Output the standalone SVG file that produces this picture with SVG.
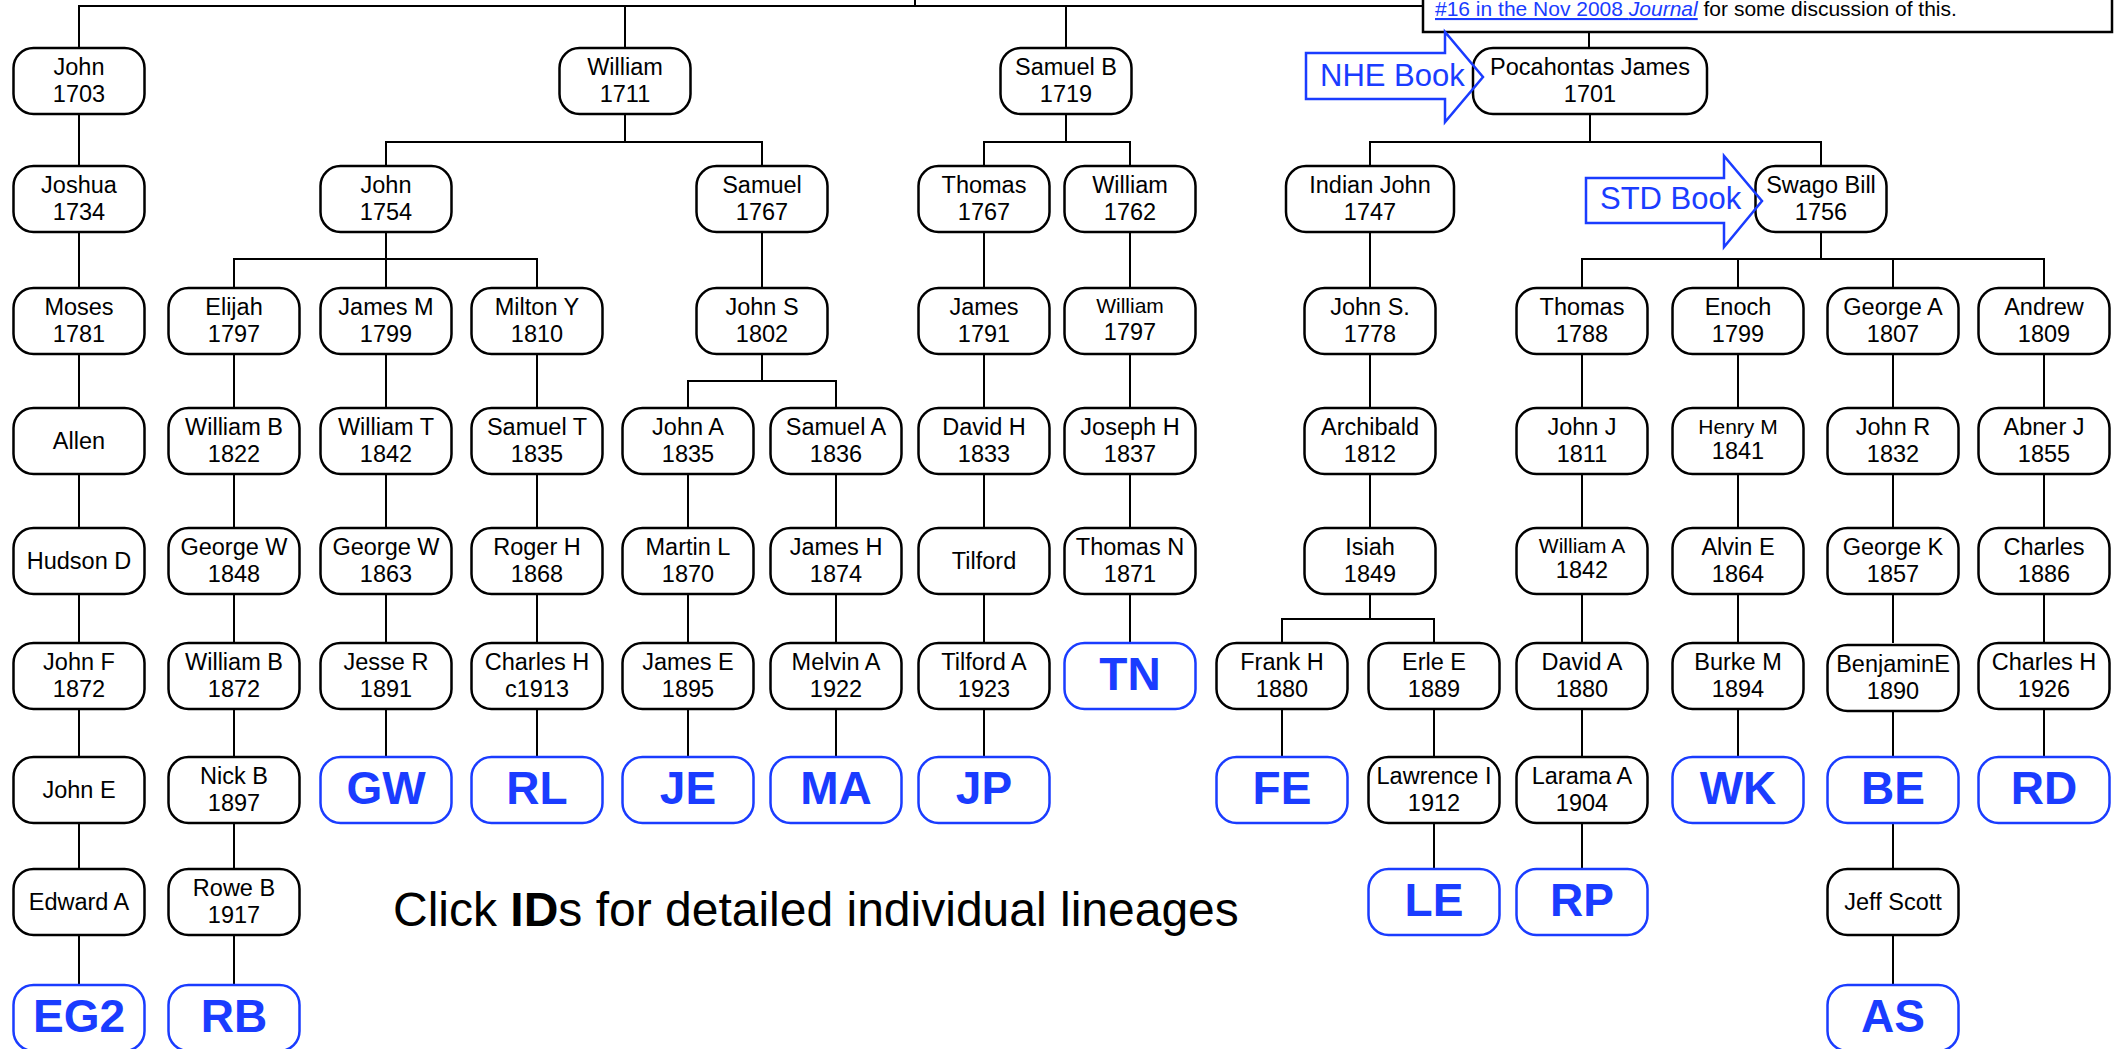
<svg xmlns="http://www.w3.org/2000/svg" width="2123" height="1049" viewBox="0 0 2123 1049">
<style>
text{font-family:"Liberation Sans",Arial,Helvetica,sans-serif}
.n rect{fill:#fff;stroke:#000;stroke-width:2.5}
.n text{font-size:23.5px;text-anchor:middle;fill:#000}
.n text.s{font-size:21px}
.id rect{fill:#fff;stroke:#1a3cff;stroke-width:2.5}
.id text{font-size:46px;font-weight:bold;text-anchor:middle;fill:#1a3cff}
.conn path{stroke:#000;stroke-width:2;fill:none}
.arrow polygon{fill:none;stroke:#1a3cff;stroke-width:2.5}
.arrow text{font-size:31px;fill:#1a3cff}
</style>
<rect x="0" y="0" width="2123" height="1049" fill="#fff"/>
<g id="connectors" class="conn">
<path d="M79 48V6H1589V48M625 6V48M1066 6V48M915 -5V6"/>
<path d="M625 114V142M386 166V142H762V166"/>
<path d="M1066 114V142M984 166V142H1130V166"/>
<path d="M1590 114V142M1370 166V142H1821V166"/>
<path d="M79 114V166M79 232V288M79 354V408M79 474V528M79 594V643M79 709V757M79 823V869M79 935V985"/>
<path d="M386 232V288M234 288V259H537V288"/>
<path d="M762 232V288M984 232V288M1130 232V288M1370 232V288"/>
<path d="M1821 232V259M1582 288V259H2044V288M1738 259V288M1893 259V288"/>
<path d="M234 354V408M386 354V408M537 354V408M984 354V408M1130 354V408M1370 354V408M1582 354V408M1738 354V408M1893 354V408M2044 354V408"/>
<path d="M762 354V381M688 408V381H836V408"/>
<path d="M234 474V528M386 474V528M537 474V528M688 474V528M836 474V528M984 474V528M1130 474V528M1370 474V528M1582 474V528M1738 474V528M1893 474V528M2044 474V528"/>
<path d="M234 594V643M386 594V643M537 594V643M688 594V643M836 594V643M984 594V643M1130 594V643M1582 594V643M1738 594V643M1893 594V643M2044 594V643"/>
<path d="M1370 594V619M1282 643V619H1434V643"/>
<path d="M234 709V757M386 709V757M537 709V757M688 709V757M836 709V757M984 709V757M1282 709V757M1434 709V757M1582 709V757M1738 709V757M1893 709V757M2044 709V757"/>
<path d="M234 823V869M1434 823V869M1582 823V869M1893 823V869"/>
<path d="M234 935V985M1893 935V985"/>
</g>
<g id="note">
<rect x="1423" y="-40" width="689" height="72" fill="#fff" stroke="#000" stroke-width="2.5"/>
<text x="1435" y="16" font-size="21"><tspan fill="#1a3cff" text-decoration="underline">#16 in the Nov 2008 </tspan><tspan fill="#1a3cff" text-decoration="underline" font-style="italic">Journal</tspan><tspan fill="#000"> for some discussion of this.</tspan></text>
</g>
<!-- Row 1 -->
<g id="john1703" class="n"><rect x="13.5" y="48" width="131" height="66" rx="20"/><text x="79" y="75">John</text><text x="79" y="102">1703</text></g>
<g id="william1711" class="n"><rect x="559.5" y="48" width="131" height="66" rx="20"/><text x="625" y="75">William</text><text x="625" y="102">1711</text></g>
<g id="samuelb1719" class="n"><rect x="1000.5" y="48" width="131" height="66" rx="20"/><text x="1066" y="75">Samuel B</text><text x="1066" y="102">1719</text></g>
<g id="pocahontas1701" class="n"><rect x="1473" y="48" width="234" height="66" rx="20"/><text x="1590" y="75">Pocahontas James</text><text x="1590" y="102">1701</text></g>
<!-- Row 2 -->
<g id="joshua1734" class="n"><rect x="13.5" y="166" width="131" height="66" rx="20"/><text x="79" y="193">Joshua</text><text x="79" y="220">1734</text></g>
<g id="john1754" class="n"><rect x="320.5" y="166" width="131" height="66" rx="20"/><text x="386" y="193">John</text><text x="386" y="220">1754</text></g>
<g id="samuel1767" class="n"><rect x="696.5" y="166" width="131" height="66" rx="20"/><text x="762" y="193">Samuel</text><text x="762" y="220">1767</text></g>
<g id="thomas1767" class="n"><rect x="918.5" y="166" width="131" height="66" rx="20"/><text x="984" y="193">Thomas</text><text x="984" y="220">1767</text></g>
<g id="william1762" class="n"><rect x="1064.5" y="166" width="131" height="66" rx="20"/><text x="1130" y="193">William</text><text x="1130" y="220">1762</text></g>
<g id="indianjohn1747" class="n"><rect x="1286" y="166" width="168" height="66" rx="20"/><text x="1370" y="193">Indian John</text><text x="1370" y="220">1747</text></g>
<g id="swagobill1756" class="n"><rect x="1755.5" y="166" width="131" height="66" rx="20"/><text x="1821" y="193">Swago Bill</text><text x="1821" y="220">1756</text></g>
<!-- Row 3 -->
<g id="moses1781" class="n"><rect x="13.5" y="288" width="131" height="66" rx="20"/><text x="79" y="315">Moses</text><text x="79" y="342">1781</text></g>
<g id="elijah1797" class="n"><rect x="168.5" y="288" width="131" height="66" rx="20"/><text x="234" y="315">Elijah</text><text x="234" y="342">1797</text></g>
<g id="jamesm1799" class="n"><rect x="320.5" y="288" width="131" height="66" rx="20"/><text x="386" y="315">James M</text><text x="386" y="342">1799</text></g>
<g id="miltony1810" class="n"><rect x="471.5" y="288" width="131" height="66" rx="20"/><text x="537" y="315">Milton Y</text><text x="537" y="342">1810</text></g>
<g id="johns1802" class="n"><rect x="696.5" y="288" width="131" height="66" rx="20"/><text x="762" y="315">John S</text><text x="762" y="342">1802</text></g>
<g id="james1791" class="n"><rect x="918.5" y="288" width="131" height="66" rx="20"/><text x="984" y="315">James</text><text x="984" y="342">1791</text></g>
<g id="william1797" class="n"><rect x="1064.5" y="288" width="131" height="66" rx="20"/><text class="s" x="1130" y="313">William</text><text x="1130" y="340">1797</text></g>
<g id="johns1778" class="n"><rect x="1304.5" y="288" width="131" height="66" rx="20"/><text x="1370" y="315">John S.</text><text x="1370" y="342">1778</text></g>
<g id="thomas1788" class="n"><rect x="1516.5" y="288" width="131" height="66" rx="20"/><text x="1582" y="315">Thomas</text><text x="1582" y="342">1788</text></g>
<g id="enoch1799" class="n"><rect x="1672.5" y="288" width="131" height="66" rx="20"/><text x="1738" y="315">Enoch</text><text x="1738" y="342">1799</text></g>
<g id="georgea1807" class="n"><rect x="1827.5" y="288" width="131" height="66" rx="20"/><text x="1893" y="315">George A</text><text x="1893" y="342">1807</text></g>
<g id="andrew1809" class="n"><rect x="1978.5" y="288" width="131" height="66" rx="20"/><text x="2044" y="315">Andrew</text><text x="2044" y="342">1809</text></g>
<!-- Row 4 -->
<g id="allen" class="n"><rect x="13.5" y="408" width="131" height="66" rx="20"/><text x="79" y="449">Allen</text></g>
<g id="williamb1822" class="n"><rect x="168.5" y="408" width="131" height="66" rx="20"/><text x="234" y="435">William B</text><text x="234" y="462">1822</text></g>
<g id="williamt1842" class="n"><rect x="320.5" y="408" width="131" height="66" rx="20"/><text x="386" y="435">William T</text><text x="386" y="462">1842</text></g>
<g id="samuelt1835" class="n"><rect x="471.5" y="408" width="131" height="66" rx="20"/><text x="537" y="435">Samuel T</text><text x="537" y="462">1835</text></g>
<g id="johna1835" class="n"><rect x="622.5" y="408" width="131" height="66" rx="20"/><text x="688" y="435">John A</text><text x="688" y="462">1835</text></g>
<g id="samuela1836" class="n"><rect x="770.5" y="408" width="131" height="66" rx="20"/><text x="836" y="435">Samuel A</text><text x="836" y="462">1836</text></g>
<g id="davidh1833" class="n"><rect x="918.5" y="408" width="131" height="66" rx="20"/><text x="984" y="435">David H</text><text x="984" y="462">1833</text></g>
<g id="josephh1837" class="n"><rect x="1064.5" y="408" width="131" height="66" rx="20"/><text x="1130" y="435">Joseph H</text><text x="1130" y="462">1837</text></g>
<g id="archibald1812" class="n"><rect x="1304.5" y="408" width="131" height="66" rx="20"/><text x="1370" y="435">Archibald</text><text x="1370" y="462">1812</text></g>
<g id="johnj1811" class="n"><rect x="1516.5" y="408" width="131" height="66" rx="20"/><text x="1582" y="435">John J</text><text x="1582" y="462">1811</text></g>
<g id="henrym1841" class="n"><rect x="1672.5" y="408" width="131" height="66" rx="20"/><text class="s" x="1738" y="434">Henry M</text><text x="1738" y="459">1841</text></g>
<g id="johnr1832" class="n"><rect x="1827.5" y="408" width="131" height="66" rx="20"/><text x="1893" y="435">John R</text><text x="1893" y="462">1832</text></g>
<g id="abnerj1855" class="n"><rect x="1978.5" y="408" width="131" height="66" rx="20"/><text x="2044" y="435">Abner J</text><text x="2044" y="462">1855</text></g>
<!-- Row 5 -->
<g id="hudsond" class="n"><rect x="13.5" y="528" width="131" height="66" rx="20"/><text x="79" y="569">Hudson D</text></g>
<g id="georgew1848" class="n"><rect x="168.5" y="528" width="131" height="66" rx="20"/><text x="234" y="555">George W</text><text x="234" y="582">1848</text></g>
<g id="georgew1863" class="n"><rect x="320.5" y="528" width="131" height="66" rx="20"/><text x="386" y="555">George W</text><text x="386" y="582">1863</text></g>
<g id="rogerh1868" class="n"><rect x="471.5" y="528" width="131" height="66" rx="20"/><text x="537" y="555">Roger H</text><text x="537" y="582">1868</text></g>
<g id="martinl1870" class="n"><rect x="622.5" y="528" width="131" height="66" rx="20"/><text x="688" y="555">Martin L</text><text x="688" y="582">1870</text></g>
<g id="jamesh1874" class="n"><rect x="770.5" y="528" width="131" height="66" rx="20"/><text x="836" y="555">James H</text><text x="836" y="582">1874</text></g>
<g id="tilford" class="n"><rect x="918.5" y="528" width="131" height="66" rx="20"/><text x="984" y="569">Tilford</text></g>
<g id="thomasn1871" class="n"><rect x="1064.5" y="528" width="131" height="66" rx="20"/><text x="1130" y="555">Thomas N</text><text x="1130" y="582">1871</text></g>
<g id="isiah1849" class="n"><rect x="1304.5" y="528" width="131" height="66" rx="20"/><text x="1370" y="555">Isiah</text><text x="1370" y="582">1849</text></g>
<g id="williama1842" class="n"><rect x="1516.5" y="528" width="131" height="66" rx="20"/><text class="s" x="1582" y="553">William A</text><text x="1582" y="578">1842</text></g>
<g id="alvine1864" class="n"><rect x="1672.5" y="528" width="131" height="66" rx="20"/><text x="1738" y="555">Alvin E</text><text x="1738" y="582">1864</text></g>
<g id="georgek1857" class="n"><rect x="1827.5" y="528" width="131" height="66" rx="20"/><text x="1893" y="555">George K</text><text x="1893" y="582">1857</text></g>
<g id="charles1886" class="n"><rect x="1978.5" y="528" width="131" height="66" rx="20"/><text x="2044" y="555">Charles</text><text x="2044" y="582">1886</text></g>
<!-- Row 6 -->
<g id="johnf1872" class="n"><rect x="13.5" y="643" width="131" height="66" rx="20"/><text x="79" y="670">John F</text><text x="79" y="697">1872</text></g>
<g id="williamb1872" class="n"><rect x="168.5" y="643" width="131" height="66" rx="20"/><text x="234" y="670">William B</text><text x="234" y="697">1872</text></g>
<g id="jesser1891" class="n"><rect x="320.5" y="643" width="131" height="66" rx="20"/><text x="386" y="670">Jesse R</text><text x="386" y="697">1891</text></g>
<g id="charlesh1913" class="n"><rect x="471.5" y="643" width="131" height="66" rx="20"/><text x="537" y="670">Charles H</text><text x="537" y="697">c1913</text></g>
<g id="jamese1895" class="n"><rect x="622.5" y="643" width="131" height="66" rx="20"/><text x="688" y="670">James E</text><text x="688" y="697">1895</text></g>
<g id="melvina1922" class="n"><rect x="770.5" y="643" width="131" height="66" rx="20"/><text x="836" y="670">Melvin A</text><text x="836" y="697">1922</text></g>
<g id="tilforda1923" class="n"><rect x="918.5" y="643" width="131" height="66" rx="20"/><text x="984" y="670">Tilford A</text><text x="984" y="697">1923</text></g>
<g id="id-tn" class="id"><rect x="1064.5" y="643" width="131" height="66" rx="20"/><text x="1130" y="690">TN</text></g>
<g id="frankh1880" class="n"><rect x="1216.5" y="643" width="131" height="66" rx="20"/><text x="1282" y="670">Frank H</text><text x="1282" y="697">1880</text></g>
<g id="erlee1889" class="n"><rect x="1368.5" y="643" width="131" height="66" rx="20"/><text x="1434" y="670">Erle E</text><text x="1434" y="697">1889</text></g>
<g id="davida1880" class="n"><rect x="1516.5" y="643" width="131" height="66" rx="20"/><text x="1582" y="670">David A</text><text x="1582" y="697">1880</text></g>
<g id="burkem1894" class="n"><rect x="1672.5" y="643" width="131" height="66" rx="20"/><text x="1738" y="670">Burke M</text><text x="1738" y="697">1894</text></g>
<g id="benjamine1890" class="n"><rect x="1827.5" y="645" width="131" height="66" rx="20"/><text x="1893" y="672">BenjaminE</text><text x="1893" y="699">1890</text></g>
<g id="charlesh1926" class="n"><rect x="1978.5" y="643" width="131" height="66" rx="20"/><text x="2044" y="670">Charles H</text><text x="2044" y="697">1926</text></g>
<!-- Row 7 -->
<g id="johne" class="n"><rect x="13.5" y="757" width="131" height="66" rx="20"/><text x="79" y="798">John E</text></g>
<g id="nickb1897" class="n"><rect x="168.5" y="757" width="131" height="66" rx="20"/><text x="234" y="784">Nick B</text><text x="234" y="811">1897</text></g>
<g id="id-gw" class="id"><rect x="320.5" y="757" width="131" height="66" rx="20"/><text x="386" y="804">GW</text></g>
<g id="id-rl" class="id"><rect x="471.5" y="757" width="131" height="66" rx="20"/><text x="537" y="804">RL</text></g>
<g id="id-je" class="id"><rect x="622.5" y="757" width="131" height="66" rx="20"/><text x="688" y="804">JE</text></g>
<g id="id-ma" class="id"><rect x="770.5" y="757" width="131" height="66" rx="20"/><text x="836" y="804">MA</text></g>
<g id="id-jp" class="id"><rect x="918.5" y="757" width="131" height="66" rx="20"/><text x="984" y="804">JP</text></g>
<g id="id-fe" class="id"><rect x="1216.5" y="757" width="131" height="66" rx="20"/><text x="1282" y="804">FE</text></g>
<g id="lawrencei1912" class="n"><rect x="1368.5" y="757" width="131" height="66" rx="20"/><text x="1434" y="784">Lawrence I</text><text x="1434" y="811">1912</text></g>
<g id="laramaa1904" class="n"><rect x="1516.5" y="757" width="131" height="66" rx="20"/><text x="1582" y="784">Larama A</text><text x="1582" y="811">1904</text></g>
<g id="id-wk" class="id"><rect x="1672.5" y="757" width="131" height="66" rx="20"/><text x="1738" y="804">WK</text></g>
<g id="id-be" class="id"><rect x="1827.5" y="757" width="131" height="66" rx="20"/><text x="1893" y="804">BE</text></g>
<g id="id-rd" class="id"><rect x="1978.5" y="757" width="131" height="66" rx="20"/><text x="2044" y="804">RD</text></g>
<!-- Row 8 -->
<g id="edwarda" class="n"><rect x="13.5" y="869" width="131" height="66" rx="20"/><text x="79" y="910">Edward A</text></g>
<g id="roweb1917" class="n"><rect x="168.5" y="869" width="131" height="66" rx="20"/><text x="234" y="896">Rowe B</text><text x="234" y="923">1917</text></g>
<g id="id-le" class="id"><rect x="1368.5" y="869" width="131" height="66" rx="20"/><text x="1434" y="916">LE</text></g>
<g id="id-rp" class="id"><rect x="1516.5" y="869" width="131" height="66" rx="20"/><text x="1582" y="916">RP</text></g>
<g id="jeffscott" class="n"><rect x="1827.5" y="869" width="131" height="66" rx="20"/><text x="1893" y="910">Jeff Scott</text></g>
<!-- Row 9 -->
<g id="id-eg2" class="id"><rect x="13.5" y="985" width="131" height="66" rx="20"/><text x="79" y="1032">EG2</text></g>
<g id="id-rb" class="id"><rect x="168.5" y="985" width="131" height="66" rx="20"/><text x="234" y="1032">RB</text></g>
<g id="id-as" class="id"><rect x="1827.5" y="985" width="131" height="66" rx="20"/><text x="1893" y="1032">AS</text></g>
<!-- Arrows -->
<g id="nhe-book" class="arrow"><polygon points="1306,53 1445,53 1445,32 1483,77 1445,122 1445,99 1306,99"/><text x="1320" y="86">NHE Book</text></g>
<g id="std-book" class="arrow"><polygon points="1586,178 1724,178 1724,156 1762,201 1724,247 1724,223 1586,223"/><text x="1600" y="209">STD Book</text></g>
<g id="caption"><text x="393" y="926" font-size="48" fill="#000">Click <tspan font-weight="bold">ID</tspan>s for detailed individual lineages</text></g>
</svg>
